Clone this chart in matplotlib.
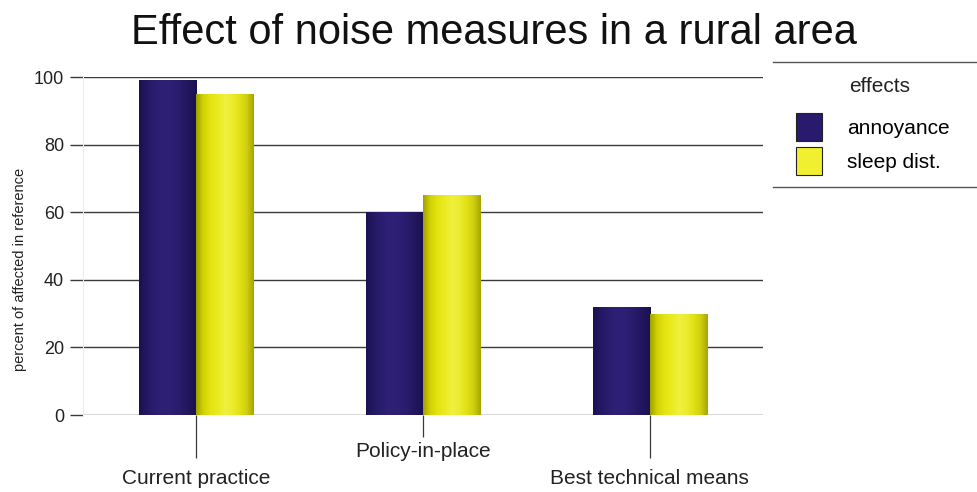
import numpy as np
import matplotlib
matplotlib.use("Agg")
import matplotlib.pyplot as plt
from matplotlib.colors import LinearSegmentedColormap
from matplotlib.patches import Patch
from matplotlib.lines import Line2D

categories = ["Current practice", "Policy-in-place", "Best technical means"]
annoyance = [99, 60, 32]
sleep_dist = [95, 65, 30]
series_names = ["annoyance", "sleep dist."]
yticks = [0, 20, 40, 60, 80, 100]

plt.rcParams['font.family'] = ['Liberation Sans', 'DejaVu Sans']

fig = plt.figure(figsize=(9.77, 4.92), dpi=100)
ax = fig.add_axes([83/977, 1-415/492, (763-83)/977, (415-77)/492])

x = np.arange(len(categories))
w = 0.252
navy_cmap = LinearSegmentedColormap.from_list("navy", ["#1a1150", "#261a68", "#2c1f74", "#2d2076", "#2a1d70", "#22175f", "#1a1150"])
yel_cmap = LinearSegmentedColormap.from_list("yel", ["#a0a000", "#d2d205", "#e4e410", "#eaea20", "#f0f040", "#ecec30", "#e2e215", "#cfcf10", "#a5a505"])

b1 = ax.bar(x, annoyance, width=-w, align='edge', color="#2a1d70", zorder=3)
b2 = ax.bar(x, sleep_dist, width=w, align='edge', color="#e6e620", zorder=3)
grad = np.linspace(0, 1, 256).reshape(1, -1)
for bars, cmap in ((b1, navy_cmap), (b2, yel_cmap)):
    for p in bars:
        x0, y0 = p.get_x(), p.get_y()
        x1, y1 = x0 + p.get_width(), y0 + p.get_height()
        im = ax.imshow(grad, cmap=cmap, aspect='auto', extent=(min(x0, x1), max(x0, x1), y0, y1), zorder=3.5, interpolation='bicubic')
        im.set_clip_path(p)

ax.set_xlim(-0.5, 2.5)
ax.set_ylim(0, 100)
ax.set_yticks(yticks)
ax.yaxis.grid(True, color="#3a3a3a", lw=1.0)
ax.set_axisbelow(True)
for s in ("top", "right", "bottom"):
    ax.spines[s].set_visible(False)
ax.spines["left"].set_color("#ececec")
ax.tick_params(axis='y', length=9.5, width=1.0, color="#3a3a3a", pad=4, labelsize=13, labelcolor="#222222")
ax.set_yticklabels([str(v) for v in yticks])

ax.set_xticks(x)
ax.set_xticklabels([])
ax.tick_params(axis='x', length=31, width=0.9, color="#3a3a3a")
ax.xaxis.get_major_ticks()[1].tick1line.set_markersize(16)
label_y = [-0.189, -0.109, -0.189]
for xi, lab, ly in zip(x, categories, label_y):
    ax.text(xi, ly, lab, transform=ax.get_xaxis_transform(), ha='center', va='center', fontsize=15, color="#222222")

ax.set_ylabel("percent of affected in reference", family=['Liberation Sans Narrow', 'Liberation Sans', 'DejaVu Sans'], fontsize=10.5, color="#222222")
ax.yaxis.set_label_coords(-0.083, 0.43)

fig.text(494/977, 1-33/492, "Effect of noise measures in a rural area", ha='center', va='center', fontsize=30, color="#111111")

handles = [Patch(facecolor="#2a1a6e", edgecolor="#222222", lw=0.8),
           Patch(facecolor="#f0f030", edgecolor="#222222", lw=0.8)]
leg = fig.legend(handles, series_names, loc='upper left', bbox_to_anchor=(792/977, 1-109/492),
                 frameon=False, fontsize=15, handlelength=1.25, handleheight=1.66, handletextpad=1.2, labelspacing=0.3,
                 borderpad=0.2, borderaxespad=0)
fig.text(849/977, 1-86/492, "effects", ha='left', va='center', fontsize=15, color="#222222")
fig.add_artist(Line2D([773/977, 1], [1-62/492, 1-62/492], color="#555555", lw=1.0))
fig.add_artist(Line2D([773/977, 1], [1-187/492, 1-187/492], color="#555555", lw=1.0))

fig.savefig("out.png", dpi=100)
